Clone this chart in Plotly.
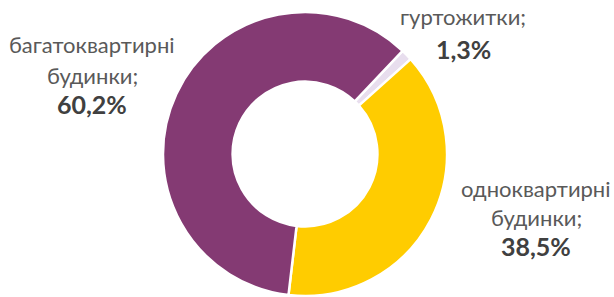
import plotly.graph_objects as go

categories = ["гуртожитки", "одноквартирні будинки", "багатоквартирні будинки"]
label_lines = [["гуртожитки;"], ["одноквартирні", "будинки;"], ["багатоквартирні", "будинки;"]]
values = [1.3, 38.5, 60.2]
pct_labels = ["1,3%", "38,5%", "60,2%"]
colors = ["#E8DEEE", "#FFCC00", "#843A73"]

W, H = 614, 297
cx, cy, R = 305, 154, 142

fig = go.Figure(go.Pie(
    labels=categories, values=values, sort=False, direction="clockwise",
    rotation=43.4, hole=0.51, textinfo="none", hoverinfo="label+percent",
    marker=dict(colors=colors, line=dict(color="white", width=2.5)),
    domain=dict(x=[(cx - R) / W, (cx + R) / W], y=[(H - cy - R) / H, (H - cy + R) / H]),
    showlegend=False,
))

font = "Lato, 'Open Sans', sans-serif"
labc = "#595959"
pctc = "#404040"
# x center px, label line centers px, pct center px
pos = [(463, [17], 49), (536, [188, 217], 246), (92, [45, 75], 104)]
ann = []
for (x, lys, py), lines, pc in zip(pos, label_lines, pct_labels):
    for ly, t in zip(lys, lines):
        ann.append(dict(x=x / W, y=1 - ly / H, xref="paper", yref="paper",
                        text=t, showarrow=False, xanchor="center", yanchor="middle",
                        font=dict(family=font, size=22, color=labc)))
    ann.append(dict(x=x / W, y=1 - py / H, xref="paper", yref="paper",
                    text="<b>" + pc + "</b>", showarrow=False, xanchor="center", yanchor="middle",
                    font=dict(family=font, size=25, color=pctc)))

fig.update_layout(width=W, height=H, margin=dict(l=0, r=0, t=0, b=0),
                  paper_bgcolor="white", plot_bgcolor="white", annotations=ann)
fig.write_html("out.html", config={"displayModeBar": False},
               post_script="document.body.style.margin='0';")
